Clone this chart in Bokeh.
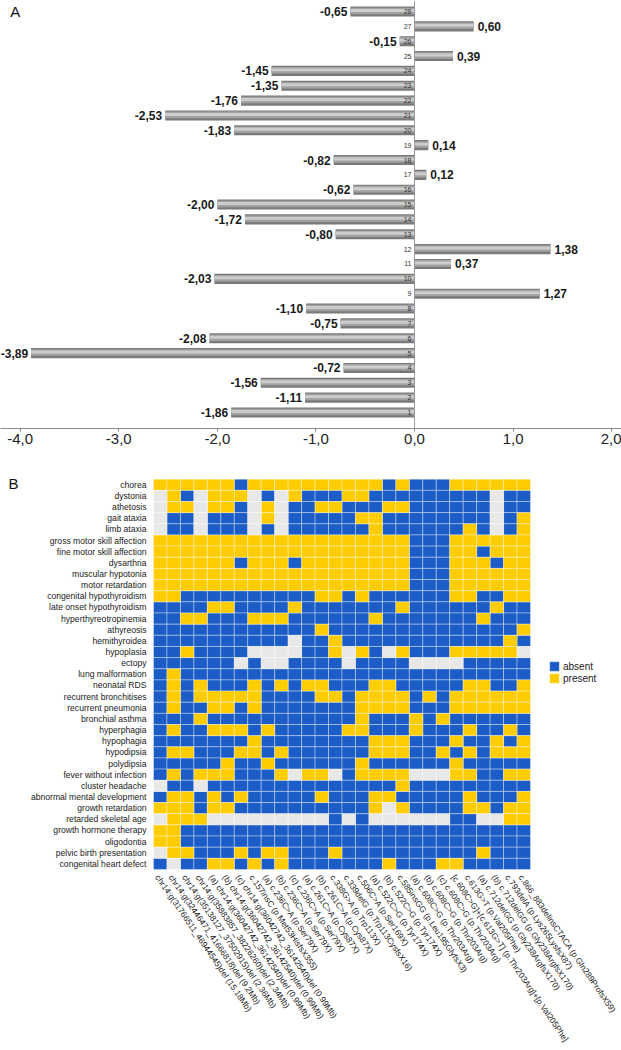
from bokeh.plotting import figure
from bokeh.models import (Range1d, Span, Label, Legend, LegendItem,
                          FixedTicker, ColumnDataSource, CustomJSTickFormatter)
from bokeh.layouts import column
from bokeh.embed import file_html
from bokeh.resources import INLINE
from bokeh.core.properties import value

# ---------------- Panel A data ----------------
bar_ids = list(range(1, 29))
bar_values = [-1.86, -1.11, -1.56, -0.72, -3.89, -2.08, -0.75, -1.10, 1.27, -2.03,
              0.37, 1.38, -0.80, -1.72, -2.00, -0.62, 0.12, -0.82, 0.14, -1.83,
              -2.53, -1.76, -1.35, -1.45, 0.39, -0.15, 0.60, -0.65]
x_ticks = [-4.0, -3.0, -2.0, -1.0, 0.0, 1.0, 2.0]

# ---------------- Panel B data ----------------
symptoms = [
    "chorea", "dystonia", "athetosis", "gait ataxia", "limb ataxia",
    "gross motor skill affection", "fine motor skill affection", "dysarthria",
    "muscular hypotonia", "motor retardation", "congenital hypothyroidism",
    "late onset hypothyroidism", "hyperthyreotropinemia", "athyreosis",
    "hemithyroidea", "hypoplasia", "ectopy", "lung malformation", "neonatal RDS",
    "recurrent bronchitises", "recurrent pneumonia", "bronchial asthma",
    "hyperphagia", "hypophagia", "hypodipsia", "polydipsia",
    "fever without infection", "cluster headache", "abnormal mental development",
    "growth retardation", "retarded skeletal age", "growth hormone therapy",
    "oligodontia", "pelvic birth presentation", "congenital heart defect",
]

patients = [
    "chr14:g(31766511_46944545)del (15.18Mb)",
    "chr14:g(32446471_41666818)del (9.2Mb)",
    "chr14:g(35138127_37502915)del (2.36Mb)",
    "chr14:g(35883857_38226260)del (2.34Mb)",
    "(a) chr14:g(36042742_36142540)del (0.99Mb)",
    "(b) chr14:g(36042742_36142540)del (0.99Mb)",
    "(c) chr14:g(36042742_36142540)del (0.99Mb)",
    "c.157insC (p.Met53HisfsX355)",
    "(a) c.236C>A (p.Ser79X)",
    "(b) c.236C>A (p.Ser79X)",
    "(c) c.236C>A (p.Ser79X)",
    "(a) c.261C>A (p.Cys87X)",
    "(b) c.261C>A (p.Cys87X)",
    "c.338G>A (p.Trp113X)",
    "c.339delG (p.Trp113CysfsX16)",
    "c.506C>A (p.Ser169X)",
    "(a) c.522C>G (p.Tyr174X)",
    "(b) c.522C>G (p.Tyr174X)",
    "c.585insGG (p.Leu195GlyfsX3)",
    "(a) c.608C>G (p.Thr203Arg)",
    "(b) c.608C>G (p.Thr203Arg)",
    "(c) c.608C>G (p.Thr203Arg)",
    "[c.608C>G]+[c.613G>T] (p.Thr203Arg]+[p.Val205Phe]",
    "c.613G>T (p.Val205Phe)",
    "(a) c.712delGG (p.Gly238ArgfsX170)",
    "(b) c.712delGG (p.Gly238ArgfsX170)",
    "c.793delA (p.Lys265LysfsX87)",
    "c.866_883delinsCTACA (p.Gln289ProfsX59)",
]

# B = absent, Y = present, G = not available ; one string per symptom, one letter per patient
status_rows = [
    "YYYY YYBY YYYY YYYY YBYB BBYY YYYY",
    "GYBG YYYG BGYB BBYY BBBB BBBB BGBB",
    "GYYG YYBG YGBB YYBB BYYB BBBB BGBB",
    "GBBG BBBG YGBB BBBY YBBB BBBB BGBY",
    "GBBG BBBG BGBB BBBB YBBB BBBY BGBY",
    "YYYY YYYY YYYY YYYY YYYB BBYY YYYY",
    "YYYY YYYY YYYY YYYY YYYB BBYY BYYY",
    "YYYY YYBY YYBY YYYY YYYB BBYY YBYY",
    "YYYY YYYY YYYY YYYY YYYB BBYY YYYY",
    "YYYY YYYY YYYY YYYY YYYB BBYY YYYY",
    "YYBB BBBB BBBB YYBY BBBB BBYY BBYY",
    "BBBB YYBB BBYB BBBB BBYB BBBB BYBB",
    "BBYY BBBY YYBB BBBB YBBB BBBB YBBB",
    "BBBB BBBB BBBB YBBB BBBB BBBB BBBY",
    "BBBB BBBB BBGB BYBB BBBB BBBB BBYB",
    "BBYB BBBG GGGB BYGY BGYB BBYY YYYG",
    "BBBB BBGB GGBB BBGB BBBG GGGB BBBB",
    "BYBB BBBB BBBB BBBB BBBB BBBB BBBB",
    "BYBY BBBY BYBY YBBB YYBB BBBY YBBY",
    "BYBY YYYY BBBB YYBY YYYB YBYY YYYY",
    "BYBB YYBY BBBB BBBY YYYB BBYY YYYY",
    "BBBY BBBB BBBB BBBY BBBY BYBB BBBB",
    "BYBB YYYB YBBB BBYY BBBY BBBY BBYB",
    "BBBB BBBY BBBB BBBB YYYB BBYB BYBY",
    "BYYB BBYY BYBB BBBB YYYB BYBY BYYY",
    "BBBB BYBB YBBB BBBY BBBB BBYB BBBB",
    "BYBY YYBB BYGY YGBY YYYG GGYY BBYY",
    "GBBG BBBB BBBB BBBB BBYB BBBB BBBB",
    "BYYB YBYB BBBB YBBB YYBB BBBY BBBY",
    "YYYB YYBB BBBB BBBB YGYB BBBY YBYY",
    "GYYY GGGG GGGG GBGB GGGG GGBB GGYY",
    "YYBB BBBB BBBB BBBB BBBB BBBB BBBB",
    "YYBB BBBB BBBB BBBB BBBB BBBB BBBB",
    "GYYB BBYB YYBB BYBB BBBB BBBB YBBB",
    "BGBB YYBY BYBB BBBB BYBB BYYB BBBB",
]
status_colors = {"B": "#1B5CC6", "Y": "#FFCC00", "G": "#E8E8E8"}

FONT = "Liberation Sans"

# ================= Panel A =================
pA = figure(width=621, height=458, x_range=Range1d(-4.2, 2.1), y_range=Range1d(-0.077, 28.74),
            output_backend="svg", toolbar_location=None,
            min_border_left=0, min_border_right=0, min_border_top=0, min_border_bottom=30)
pA.outline_line_color = None
pA.xgrid.visible = False
pA.ygrid.visible = False
pA.yaxis.visible = False

pA.add_layout(Span(location=0, dimension="height", line_color="#9a9a9a", line_width=1))

# cylinder-like grey bars (layered shades)
pA.hbar(y=bar_ids, left=0, right=bar_values, height=0.68, fill_color="#7a7a7a", line_color=None)
pA.hbar(y=[i + 0.04 for i in bar_ids], left=0, right=bar_values, height=0.44, fill_color="#a2a2a2", line_color=None)
pA.hbar(y=[i + 0.07 for i in bar_ids], left=0, right=bar_values, height=0.2, fill_color="#cdcdcd", line_color=None)

neg_y = [i for i, v in zip(bar_ids, bar_values) if v < 0]
neg_v = [v for v in bar_values if v < 0]
pos_y = [i for i, v in zip(bar_ids, bar_values) if v >= 0]
pos_v = [v for v in bar_values if v >= 0]
fmt = lambda v: ("%.2f" % v).replace(".", ",")

pA.text(x=neg_v, y=neg_y, text=[fmt(v) for v in neg_v], text_align="right", text_baseline="middle",
        x_offset=-3, text_font=value(FONT), text_font_size="12px", text_font_style="bold", text_color="#1a1a1a")
pA.text(x=pos_v, y=pos_y, text=[fmt(v) for v in pos_v], text_align="left", text_baseline="middle",
        x_offset=4, text_font=value(FONT), text_font_size="12px", text_font_style="bold", text_color="#1a1a1a")
pA.text(x=[0] * len(bar_ids), y=bar_ids, text=[str(i) for i in bar_ids], text_align="right",
        text_baseline="middle", x_offset=-3, text_font=value(FONT), text_font_size="7px", text_color="#333333")

pA.xaxis.ticker = FixedTicker(ticks=x_ticks)
pA.xaxis.formatter = CustomJSTickFormatter(code="return tick.toFixed(1).replace('.', ',');")
pA.xaxis.minor_tick_line_color = None
pA.xaxis.major_tick_in = 0
pA.xaxis.major_tick_out = 3
pA.xaxis.axis_line_color = "#8a8a8a"
pA.xaxis.major_tick_line_color = "#8a8a8a"
pA.xaxis.major_label_text_font = FONT
pA.xaxis.major_label_text_font_size = "15px"
pA.xaxis.major_label_text_color = "#222222"
pA.xaxis.major_label_standoff = 2

pA.add_layout(Label(x=-4.1, y=28.6, text="A", text_baseline="top", text_align="left",
                    text_font=FONT, text_font_size="15px", text_color="#111111"))

# ================= Panel B (numeric grid: column k at x=k, symptom i at y=-i) =================
pB = figure(width=621, height=592, x_range=Range1d(-10.864, 35.259), y_range=Range1d(-51.734, 1.356),
            output_backend="svg", toolbar_location=None,
            min_border_left=0, min_border_right=0, min_border_top=0, min_border_bottom=0)
pB.outline_line_color = None
pB.xgrid.visible = False
pB.ygrid.visible = False
pB.xaxis.visible = False
pB.yaxis.visible = False

col_pos = list(range(1, len(patients) + 1))
row_pos = [-(i + 1) for i in range(len(symptoms))]

renderers = {}
for code in ["B", "Y", "G"]:
    xs, ys = [], []
    for yv, row in zip(row_pos, status_rows):
        cells = row.replace(" ", "")
        for xv, c in zip(col_pos, cells):
            if c == code:
                xs.append(xv)
                ys.append(yv)
    src = ColumnDataSource(dict(x=xs, y=ys))
    renderers[code] = pB.rect(x="x", y="y", width=1, height=1, source=src,
                              fill_color=status_colors[code], line_color="white",
                              line_alpha=0.35, line_width=1)

# row labels (symptoms)
pB.text(x=[0.5] * len(symptoms), y=row_pos, text=symptoms, text_align="right", text_baseline="middle",
        x_offset=-7, text_font=value(FONT), text_font_size="8.6px", text_color="#1a1a1a")
# column labels (patients), slanted
pB.text(x=col_pos, y=[-len(symptoms) - 0.5] * len(patients), text=patients, angle=-0.97,
        text_align="left", text_baseline="middle", x_offset=-3, y_offset=6,
        text_font=value(FONT), text_font_size="8.4px", text_color="#1a1a1a")

legend = Legend(items=[LegendItem(label="absent", renderers=[renderers["B"]]),
                       LegendItem(label="present", renderers=[renderers["Y"]])],
                location=(548, 366), padding=0, margin=0, spacing=0,
                glyph_width=12, glyph_height=12, label_height=12, label_standoff=3,
                label_text_font=FONT, label_text_font_size="10px", label_text_color="#1a1a1a",
                border_line_color=None, background_fill_alpha=0)
pB.add_layout(legend, "center")

pB.add_layout(Label(x=-10.27, y=-0.08, text="B", text_baseline="top", text_align="left",
                    text_font=FONT, text_font_size="15px", text_color="#111111"))

layout = column(pA, pB, spacing=0)
open("out.html", "w").write(file_html(layout, INLINE))
